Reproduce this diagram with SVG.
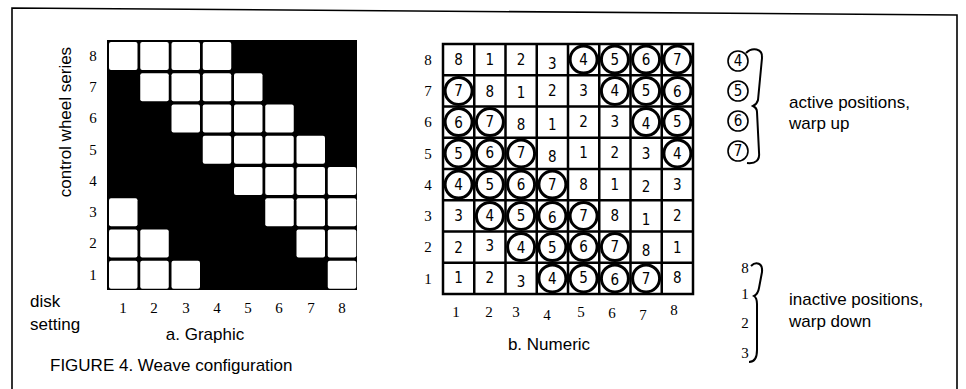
<svg xmlns="http://www.w3.org/2000/svg" width="966" height="389" viewBox="0 0 966 389">
<style>
.lbl{font-family:"Liberation Sans",Arial,sans-serif;font-size:17px;fill:#000}
.ser{font-family:"Liberation Serif","Times New Roman",serif;font-size:15px;fill:#000;text-anchor:middle}
.dig{font-family:"DejaVu Sans",sans-serif;font-stretch:condensed;font-size:15px;fill:#000;text-anchor:middle}
.cell{fill:#fff}
.ngrid{fill:#fff;stroke:#000;stroke-width:2.5}
.ring{fill:none;stroke:#000;stroke-width:3}
.lring{fill:none;stroke:#000;stroke-width:1.6}
.brace{fill:none;stroke:#000;stroke-width:2}
</style>
<rect width="966" height="389" fill="#fff"/>
<g id="frame"><path d="M12,389 L12,8 L957,15 L957,389" fill="none" stroke="#000" stroke-width="1.6"/></g>

<g id="graphic">
<text class="lbl" transform="translate(71,122) rotate(-90)" text-anchor="middle" font-size="18.5">control wheel series</text>
<g id="graphic-rows">
<text class="ser" x="93" y="61">8</text><text class="ser" x="93" y="92">7</text><text class="ser" x="93" y="123">6</text><text class="ser" x="93" y="155">5</text>
<text class="ser" x="93" y="186">4</text><text class="ser" x="93" y="217">3</text><text class="ser" x="93" y="248">2</text><text class="ser" x="93" y="280">1</text>
</g>
<rect x="107" y="40" width="250" height="250" fill="#000"/>
<g id="graphic-cells">
<rect class="cell" x="109" y="42" width="28.5" height="28" rx="2"/><rect class="cell" x="140.25" y="42" width="28.5" height="28" rx="2"/><rect class="cell" x="171.5" y="42" width="28.5" height="28" rx="2"/><rect class="cell" x="202.75" y="42" width="28.5" height="28" rx="2"/>
<rect class="cell" x="140.25" y="73.25" width="28.5" height="28" rx="2"/><rect class="cell" x="171.5" y="73.25" width="28.5" height="28" rx="2"/><rect class="cell" x="202.75" y="73.25" width="28.5" height="28" rx="2"/><rect class="cell" x="234" y="73.25" width="28.5" height="28" rx="2"/>
<rect class="cell" x="171.5" y="104.5" width="28.5" height="28" rx="2"/><rect class="cell" x="202.75" y="104.5" width="28.5" height="28" rx="2"/><rect class="cell" x="234" y="104.5" width="28.5" height="28" rx="2"/><rect class="cell" x="265.25" y="104.5" width="28.5" height="28" rx="2"/>
<rect class="cell" x="202.75" y="135.75" width="28.5" height="28" rx="2"/><rect class="cell" x="234" y="135.75" width="28.5" height="28" rx="2"/><rect class="cell" x="265.25" y="135.75" width="28.5" height="28" rx="2"/><rect class="cell" x="296.5" y="135.75" width="28.5" height="28" rx="2"/>
<rect class="cell" x="234" y="167" width="28.5" height="28" rx="2"/><rect class="cell" x="265.25" y="167" width="28.5" height="28" rx="2"/><rect class="cell" x="296.5" y="167" width="28.5" height="28" rx="2"/><rect class="cell" x="327.75" y="167" width="28.5" height="28" rx="2"/>
<rect class="cell" x="109" y="198.25" width="28.5" height="28" rx="2"/><rect class="cell" x="265.25" y="198.25" width="28.5" height="28" rx="2"/><rect class="cell" x="296.5" y="198.25" width="28.5" height="28" rx="2"/><rect class="cell" x="327.75" y="198.25" width="28.5" height="28" rx="2"/>
<rect class="cell" x="109" y="229.5" width="28.5" height="28" rx="2"/><rect class="cell" x="140.25" y="229.5" width="28.5" height="28" rx="2"/><rect class="cell" x="296.5" y="229.5" width="28.5" height="28" rx="2"/><rect class="cell" x="327.75" y="229.5" width="28.5" height="28" rx="2"/>
<rect class="cell" x="109" y="260.75" width="28.5" height="28" rx="2"/><rect class="cell" x="140.25" y="260.75" width="28.5" height="28" rx="2"/><rect class="cell" x="171.5" y="260.75" width="28.5" height="28" rx="2"/><rect class="cell" x="327.75" y="260.75" width="28.5" height="28" rx="2"/>
</g>
<g id="graphic-cols">
<text class="ser" x="123" y="313">1</text><text class="ser" x="154" y="313">2</text><text class="ser" x="186" y="313">3</text><text class="ser" x="217" y="313">4</text>
<text class="ser" x="248" y="313">5</text><text class="ser" x="279" y="313">6</text><text class="ser" x="311" y="313">7</text><text class="ser" x="342" y="313">8</text>
</g>
<text class="lbl" x="30" y="307" font-size="18">disk</text>
<text class="lbl" x="30" y="330" font-size="18">setting</text>
<text class="lbl" x="205" y="340" text-anchor="middle" font-size="18">a. Graphic</text>
</g>

<g id="numeric">
<g id="numeric-rows">
<text class="ser" x="428" y="65">8</text><text class="ser" x="428" y="96">7</text><text class="ser" x="428" y="127">6</text><text class="ser" x="428" y="159">5</text>
<text class="ser" x="428" y="190">4</text><text class="ser" x="428" y="221">3</text><text class="ser" x="428" y="252">2</text><text class="ser" x="428" y="284">1</text>
</g>
<rect class="ngrid" x="443" y="44" width="250" height="250"/>
<path d="M474.25,44V294M505.5,44V294M536.75,44V294M568,44V294M599.25,44V294M630.5,44V294M661.75,44V294M443,75.25H693M443,106.5H693M443,137.75H693M443,169H693M443,200.25H693M443,231.5H693M443,262.75H693" stroke="#000" stroke-width="2.5" fill="none"/>
<g id="numeric-rings">
<circle class="ring" cx="583.6" cy="59.6" r="13.5"/><circle class="ring" cx="614.9" cy="59.6" r="13.5"/><circle class="ring" cx="646.1" cy="59.6" r="13.5"/><circle class="ring" cx="677.4" cy="59.6" r="13.5"/>
<circle class="ring" cx="458.6" cy="90.9" r="13.5"/><circle class="ring" cx="614.9" cy="90.9" r="13.5"/><circle class="ring" cx="646.1" cy="90.9" r="13.5"/><circle class="ring" cx="677.4" cy="90.9" r="13.5"/>
<circle class="ring" cx="458.6" cy="122.1" r="13.5"/><circle class="ring" cx="489.9" cy="122.1" r="13.5"/><circle class="ring" cx="646.1" cy="122.1" r="13.5"/><circle class="ring" cx="677.4" cy="122.1" r="13.5"/>
<circle class="ring" cx="458.6" cy="153.4" r="13.5"/><circle class="ring" cx="489.9" cy="153.4" r="13.5"/><circle class="ring" cx="521.1" cy="153.4" r="13.5"/><circle class="ring" cx="677.4" cy="153.4" r="13.5"/>
<circle class="ring" cx="458.6" cy="184.6" r="13.5"/><circle class="ring" cx="489.9" cy="184.6" r="13.5"/><circle class="ring" cx="521.1" cy="184.6" r="13.5"/><circle class="ring" cx="552.4" cy="184.6" r="13.5"/>
<circle class="ring" cx="489.9" cy="215.9" r="13.5"/><circle class="ring" cx="521.1" cy="215.9" r="13.5"/><circle class="ring" cx="552.4" cy="215.9" r="13.5"/><circle class="ring" cx="583.6" cy="215.9" r="13.5"/>
<circle class="ring" cx="521.1" cy="247.1" r="13.5"/><circle class="ring" cx="552.4" cy="247.1" r="13.5"/><circle class="ring" cx="583.6" cy="247.1" r="13.5"/><circle class="ring" cx="614.9" cy="247.1" r="13.5"/>
<circle class="ring" cx="552.4" cy="278.4" r="13.5"/><circle class="ring" cx="583.6" cy="278.4" r="13.5"/><circle class="ring" cx="614.9" cy="278.4" r="13.5"/><circle class="ring" cx="646.1" cy="278.4" r="13.5"/>
</g>
<g id="numeric-digits">
<text class="dig" x="458.6" y="65">8</text><text class="dig" x="489.9" y="65">1</text><text class="dig" x="521.1" y="65">2</text><text class="dig" x="552.4" y="69">3</text><text class="dig" x="583.6" y="65">4</text><text class="dig" x="614.9" y="65">5</text><text class="dig" x="646.1" y="65">6</text><text class="dig" x="677.4" y="65">7</text>
<text class="dig" x="458.6" y="96">7</text><text class="dig" x="489.9" y="97">8</text><text class="dig" x="521.1" y="98">1</text><text class="dig" x="552.4" y="96">2</text><text class="dig" x="583.6" y="96">3</text><text class="dig" x="614.9" y="96">4</text><text class="dig" x="646.1" y="96">5</text><text class="dig" x="677.4" y="97">6</text>
<text class="dig" x="458.6" y="128">6</text><text class="dig" x="489.9" y="127">7</text><text class="dig" x="521.1" y="130">8</text><text class="dig" x="552.4" y="130">1</text><text class="dig" x="583.6" y="127">2</text><text class="dig" x="614.9" y="127">3</text><text class="dig" x="646.1" y="129">4</text><text class="dig" x="677.4" y="127">5</text>
<text class="dig" x="458.6" y="159">5</text><text class="dig" x="489.9" y="158">6</text><text class="dig" x="521.1" y="158">7</text><text class="dig" x="552.4" y="162">8</text><text class="dig" x="583.6" y="158">1</text><text class="dig" x="614.9" y="158">2</text><text class="dig" x="646.1" y="159">3</text><text class="dig" x="677.4" y="159">4</text>
<text class="dig" x="458.6" y="190">4</text><text class="dig" x="489.9" y="190">5</text><text class="dig" x="521.1" y="190">6</text><text class="dig" x="552.4" y="190">7</text><text class="dig" x="583.6" y="190">8</text><text class="dig" x="614.9" y="190">1</text><text class="dig" x="646.1" y="192">2</text><text class="dig" x="677.4" y="190">3</text>
<text class="dig" x="458.6" y="221">3</text><text class="dig" x="489.9" y="221">4</text><text class="dig" x="521.1" y="221">5</text><text class="dig" x="552.4" y="223">6</text><text class="dig" x="583.6" y="221">7</text><text class="dig" x="614.9" y="221">8</text><text class="dig" x="646.1" y="225">1</text><text class="dig" x="677.4" y="221">2</text>
<text class="dig" x="458.6" y="253">2</text><text class="dig" x="489.9" y="251">3</text><text class="dig" x="521.1" y="253">4</text><text class="dig" x="552.4" y="253">5</text><text class="dig" x="583.6" y="252">6</text><text class="dig" x="614.9" y="252">7</text><text class="dig" x="646.1" y="256">8</text><text class="dig" x="677.4" y="253">1</text>
<text class="dig" x="458.6" y="283">1</text><text class="dig" x="489.9" y="283">2</text><text class="dig" x="521.1" y="287">3</text><text class="dig" x="552.4" y="284">4</text><text class="dig" x="583.6" y="283">5</text><text class="dig" x="614.9" y="285">6</text><text class="dig" x="646.1" y="284">7</text><text class="dig" x="677.4" y="283">8</text>
</g>
<g id="numeric-cols">
<text class="ser" x="456" y="317">1</text><text class="ser" x="489" y="317">2</text><text class="ser" x="516" y="317">3</text><text class="ser" x="547" y="320">4</text>
<text class="ser" x="581" y="317">5</text><text class="ser" x="612" y="318">6</text><text class="ser" x="643" y="320">7</text><text class="ser" x="674" y="315">8</text>
</g>
<text class="lbl" x="549" y="350" text-anchor="middle">b. Numeric</text>
</g>

<g id="legend-active">
<circle class="lring" cx="738" cy="61" r="10"/><text class="dig" x="738" y="66" font-size="13">4</text>
<circle class="lring" cx="738" cy="91" r="10"/><text class="dig" x="738" y="96" font-size="13">5</text>
<circle class="lring" cx="738" cy="121" r="10"/><text class="dig" x="738" y="126" font-size="13">6</text>
<circle class="lring" cx="738" cy="151" r="10"/><text class="dig" x="738" y="156" font-size="13">7</text>
<path class="brace" d="M746,53 C752,47 763,48 762,58 L758,100 Q757,104 753,106 Q757,108 757,112 L759,152 C760,160 756,164 747,163"/>
<text class="lbl" x="789" y="108">active positions,</text>
<text class="lbl" x="789" y="129">warp up</text>
</g>

<g id="legend-inactive">
<text class="ser" x="745" y="273" font-size="12">8</text>
<text class="ser" x="745" y="299" font-size="12">1</text>
<text class="ser" x="745" y="328" font-size="12">2</text>
<text class="ser" x="745" y="358" font-size="12">3</text>
<path class="brace" d="M751,266 C756,261 763,263 762,272 L759,288 Q758,294 754,296 Q757,298 757,304 L757,350 C757,358 754,362 749,362"/>
<text class="lbl" x="789" y="305">inactive positions,</text>
<text class="lbl" x="789" y="327">warp down</text>
</g>

<text class="lbl" x="50" y="371" font-size="15.5">FIGURE 4. Weave configuration</text>
</svg>
